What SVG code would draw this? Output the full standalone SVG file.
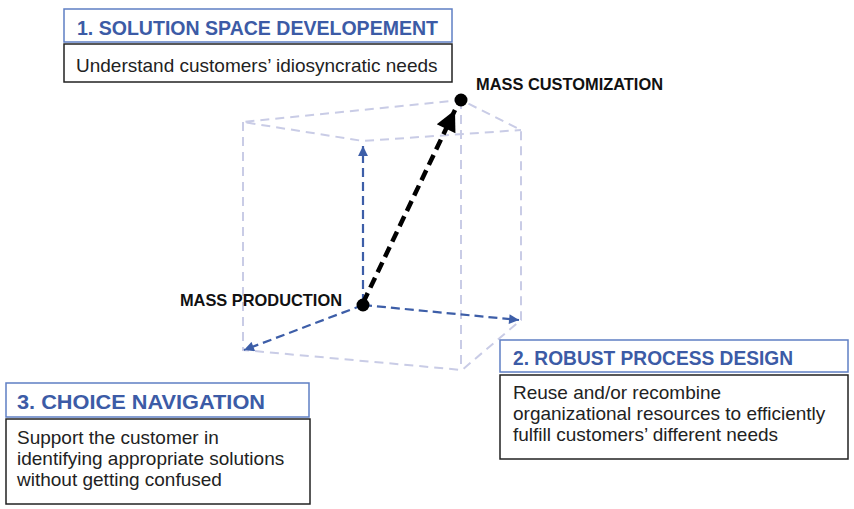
<svg xmlns="http://www.w3.org/2000/svg" width="854" height="509" viewBox="0 0 854 509">
<style>
.title{fill:#fff;stroke:#5f7fc4;stroke-width:1.5}
.desc{fill:#fff;stroke:#222;stroke-width:1.5}
.tt{font-family:"Liberation Sans",Arial,sans-serif;font-weight:bold;font-size:19.5px;fill:#3c5ba6}
.dt{font-family:"Liberation Sans",Arial,sans-serif;font-size:19px;fill:#222}
.lbl{font-family:"Liberation Sans",Arial,sans-serif;font-weight:bold;font-size:16.4px;fill:#111}
.cube{stroke:#c9cce6;stroke-width:2;stroke-dasharray:9 6;fill:none}
.axis{stroke:#3d5ea8;stroke-width:2.2;stroke-dasharray:9 5;fill:none}
.main{stroke:#000;stroke-width:4.5;stroke-dasharray:11 6;fill:none}
</style>
<defs>
<marker id="ab" viewBox="0 0 10 10" refX="10" refY="5" markerWidth="5" markerHeight="4.5" orient="auto" markerUnits="strokeWidth"><path d="M0,0 L10,5 L0,10 z" fill="#3d5ea8"/></marker>
<marker id="ak" viewBox="0 0 10 10" refX="10" refY="5" markerWidth="7.2" markerHeight="4.6" orient="auto" markerUnits="strokeWidth"><path d="M0,0 L10,5 L0,10 z" fill="#000"/></marker>
</defs>
<rect width="854" height="509" fill="#fff"/>
<g id="cube">
<path class="cube" d="M243,122 V350 L462,370 L521,320 V130 L461,100 L243,122 L363,141 L521,130"/>
<path class="cube" d="M461,100 V370"/>
</g>
<g id="connectors">
<path class="axis" d="M363,303 V146" marker-end="url(#ab)"/>
<path class="axis" d="M363,305 L519,320" marker-end="url(#ab)"/>
<path class="axis" d="M363,305 L244,350" marker-end="url(#ab)"/>
<path class="main" d="M363,303 L455,110" marker-end="url(#ak)"/>
</g>
<g id="mass-production">
<circle cx="363" cy="305" r="6.5" fill="#000"/>
<text class="lbl" x="342" y="306" text-anchor="end">MASS PRODUCTION</text>
</g>
<g id="mass-customization">
<circle cx="461" cy="100" r="6.5" fill="#000"/>
<text class="lbl" x="476" y="90">MASS CUSTOMIZATION</text>
</g>
<g id="box1">
<rect class="title" x="64" y="9" width="388" height="33"/>
<text class="tt" x="77" y="35" textLength="361" lengthAdjust="spacingAndGlyphs">1. SOLUTION SPACE DEVELOPEMENT</text>
<rect class="desc" x="64" y="44" width="388" height="38"/>
<text class="dt" x="76" y="72">Understand customers’ idiosyncratic needs</text>
</g>
<g id="box2">
<rect class="title" x="500" y="340" width="348" height="32"/>
<text class="tt" x="513" y="365" textLength="280" lengthAdjust="spacingAndGlyphs">2. ROBUST PROCESS DESIGN</text>
<rect class="desc" x="500" y="375" width="348" height="84"/>
<text class="dt" x="513" y="399">Reuse and/or recombine</text>
<text class="dt" x="513" y="420">organizational resources to efficiently</text>
<text class="dt" x="513" y="441">fulfill customers’ different needs</text>
</g>
<g id="box3">
<rect class="title" x="6" y="383" width="303" height="34"/>
<text class="tt" x="17" y="409" textLength="248" lengthAdjust="spacingAndGlyphs">3. CHOICE NAVIGATION</text>
<rect class="desc" x="6" y="419" width="304" height="85"/>
<text class="dt" x="17" y="444">Support the customer in</text>
<text class="dt" x="17" y="465">identifying appropriate solutions</text>
<text class="dt" x="17" y="486">without getting confused</text>
</g>
</svg>
